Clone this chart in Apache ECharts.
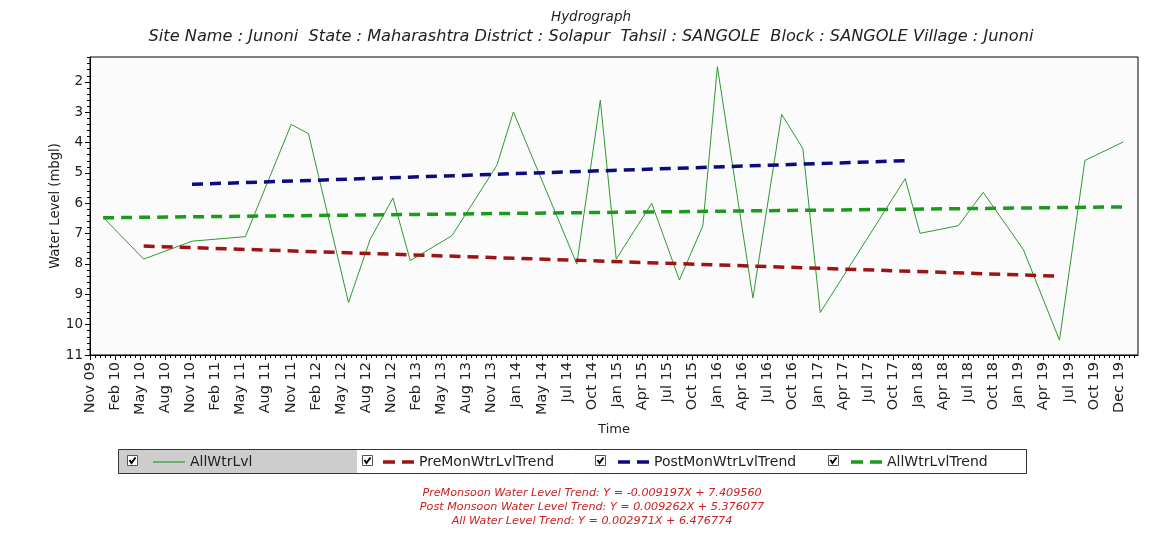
<!DOCTYPE html>
<html>
<head>
<meta charset="utf-8">
<title>Hydrograph - Junoni</title>
<script src="https://cdn.jsdelivr.net/npm/echarts@6/dist/echarts.min.js"></script>
<style>
  html, body { margin: 0; padding: 0; background: #ffffff; }
  #chart { width: 1163px; height: 533px; }
</style>
</head>
<body>
<div id="chart"></div>
<script>
// Observation dates and depth to water level (m below ground level)
const obsDates = [
  '2009-12-18', '2010-05-12', '2010-11-01', '2011-05-11', '2011-10-22', '2011-12-23',
  '2012-05-14', '2012-07-31', '2012-10-20', '2012-12-21', '2013-05-19', '2013-10-27',
  '2013-12-25', '2014-08-09', '2014-11-01', '2014-12-28', '2015-05-04', '2015-08-11',
  '2015-11-03', '2015-12-25', '2016-04-30', '2016-08-11', '2016-10-26', '2016-12-27',
  '2017-10-27', '2017-12-19', '2018-05-05', '2018-08-02', '2018-12-24', '2019-05-02',
  '2019-08-01', '2019-12-16'
];
const waterLevel = [
  6.46, 7.84, 7.25, 7.10, 3.40, 3.71,
  9.27, 7.18, 5.83, 7.89, 7.07, 4.75,
  2.99, 8.00, 2.60, 7.84, 6.00, 8.53,
  6.74, 1.50, 9.12, 3.07, 4.20, 9.60,
  5.19, 6.99, 6.74, 5.64, 7.53, 10.51,
  4.59, 3.98
];

// Trend line end points (date, level)
const preMonTrendDates = ['2010-05-12', '2019-05-02'];
const preMonTrendValues = [7.410, 8.403];
const postMonTrendDates = ['2010-11-01', '2017-10-27'];
const postMonTrendValues = [5.376, 4.598];
const allTrendDates = ['2009-12-18', '2019-12-16'];
const allTrendValues = [6.477, 6.120];

// Time axis tick labels (evenly spaced along the axis)
const tickLabels = [
  'Nov 09', 'Feb 10', 'May 10', 'Aug 10', 'Nov 10', 'Feb 11', 'May 11', 'Aug 11',
  'Nov 11', 'Feb 12', 'May 12', 'Aug 12', 'Nov 12', 'Feb 13', 'May 13', 'Aug 13',
  'Nov 13', 'Jan 14', 'May 14', 'Jul 14', 'Oct 14', 'Jan 15', 'Apr 15', 'Jul 15',
  'Oct 15', 'Jan 16', 'Apr 16', 'Jul 16', 'Oct 16', 'Jan 17', 'Apr 17', 'Jul 17',
  'Oct 17', 'Jan 18', 'Apr 18', 'Jul 18', 'Oct 18', 'Jan 19', 'Apr 19', 'Jul 19',
  'Oct 19', 'Dec 19'
];
const firstTickDate = '2009-11-01';
const lastTickDate = '2019-12-01';
const axisEndDate = '2020-02-07';

// Depth axis labels
const levelTicks = [2, 3, 4, 5, 6, 7, 8, 9, 10, 11];
const levelMin = 1.18;
const levelMax = 11;

const seriesNames = ['AllWtrLvl', 'PreMonWtrLvlTrend', 'PostMonWtrLvlTrend', 'AllWtrLvlTrend'];
const trendNotes = [
  'PreMonsoon Water Level Trend: Y = -0.009197X + 7.409560',
  'Post Monsoon Water Level Trend: Y = 0.009262X + 5.376077',
  'All Water Level Trend: Y = 0.002971X + 6.476774'
];

const FONT = '"DejaVu Sans", "Liberation Sans", Arial, sans-serif';
const ms = (d) => Date.parse(d + 'T00:00:00Z');
const pairs = (xs, ys) => xs.map((x, i) => [ms(x), ys[i]]);

// tick positions along the time axis
const t0 = ms(firstTickDate);
const tN = ms(lastTickDate);
const tEnd = ms(axisEndDate);
const tickStep = (tN - t0) / (tickLabels.length - 1);
const majorTimes = tickLabels.map((_, i) => t0 + i * tickStep);
const minorTimes = [];
for (let i = 0; i < tickLabels.length; i++) {
  for (let k = 1; k < 5; k++) {
    const t = t0 + (i + k / 5) * tickStep;
    if (t < tEnd) minorTimes.push(t);
  }
}
const minorLevels = [];
for (let i = 6; i < 55; i++) {
  if (i % 5 !== 0) minorLevels.push(i / 5);
}

const chart = echarts.init(document.getElementById('chart'), null, { renderer: 'canvas' });

// check box drawn in front of each legend entry
function checkBox(x, y) {
  return {
    type: 'group', x: x, y: y, silent: true,
    children: [
      { type: 'rect', shape: { x: 0.5, y: 0.5, width: 10, height: 10 },
        style: { fill: '#ffffff', stroke: '#555', lineWidth: 1 } },
      { type: 'polyline', shape: { points: [[2.5, 5], [4.5, 8], [8.5, 2.5]] },
        style: { stroke: '#000', lineWidth: 2, fill: null } }
    ]
  };
}

// legend line samples: a thin solid stroke and a pair of thick dashes
const SOLID_ICON = 'path://M0,0H32V1H0Z';
const DASH_ICON = 'path://M0,0H12V1H0ZM19,0H31V1H19Z';
const legendStyle = { fontFamily: FONT, fontSize: 14, color: '#222' };
function legendAt(name, left, icon, w, h) {
  return {
    data: [name], left: left, top: 455, icon: icon, itemWidth: w, itemHeight: h,
    symbolKeepAspect: false, itemGap: 6, textStyle: legendStyle, selectedMode: false, padding: 0
  };
}

const italic = (size, color) => ({
  fontFamily: FONT, fontSize: size, fontStyle: 'italic', fontWeight: 'normal', color: color
});
const TEXT_CENTER_X = 591;

const option = {
  backgroundColor: '#ffffff',
  animation: false,
  title: [
    { text: 'Hydrograph', left: TEXT_CENTER_X, textAlign: 'center', top: 10, padding: 0,
      textStyle: italic(13.5, '#222') },
    { text: 'Site Name : Junoni  State : Maharashtra District : Solapur  Tahsil : SANGOLE  Block : SANGOLE Village : Junoni',
      left: TEXT_CENTER_X, textAlign: 'center', top: 29, padding: 0, textStyle: italic(16.2, '#222') },
    ...trendNotes.map((t, i) => ({
      text: t, left: TEXT_CENTER_X + 1, textAlign: 'center', top: 488 + i * 14, padding: 0,
      textStyle: italic(11.2, '#cc2020')
    }))
  ],
  legend: [
    legendAt(seriesNames[0], 153, SOLID_ICON, 32, 1.2),
    legendAt(seriesNames[1], 383, DASH_ICON, 31, 3.5),
    legendAt(seriesNames[2], 618, DASH_ICON, 31, 3.5),
    legendAt(seriesNames[3], 851, DASH_ICON, 31, 3.5)
  ],
  grid: {
    left: 90, right: 25, top: 57, bottom: 178,
    show: true, backgroundColor: '#fbfbfb', borderColor: '#000', borderWidth: 1
  },
  xAxis: [
    {
      type: 'value',
      min: t0, max: tEnd,
      name: 'Time', nameLocation: 'middle', nameGap: 63,
      nameTextStyle: { fontFamily: FONT, fontSize: 13, color: '#222' },
      axisLine: { show: true, lineStyle: { color: '#000', width: 1 } },
      axisTick: { show: true, customValues: majorTimes, length: 5, lineStyle: { color: '#000' } },
      axisLabel: {
        customValues: majorTimes, rotate: 90, margin: 7,
        fontFamily: FONT, fontSize: 14.5, color: '#222',
        formatter: (val) => tickLabels[Math.round((val - t0) / tickStep)] || ''
      },
      splitLine: { show: false }
    },
    {
      type: 'value', gridIndex: 0, position: 'bottom',
      min: t0, max: tEnd,
      axisLine: { show: false },
      axisTick: { show: true, customValues: minorTimes, length: 3, lineStyle: { color: '#000' } },
      axisLabel: { show: false },
      splitLine: { show: false }
    }
  ],
  yAxis: [
    {
      type: 'value', inverse: true, min: levelMin, max: levelMax,
      name: 'Water Level (mbgl)', nameLocation: 'middle', nameGap: 28, nameMoveOverlap: false,
      nameTextStyle: { fontFamily: FONT, fontSize: 13.2, color: '#222' },
      axisLine: { show: true, lineStyle: { color: '#000', width: 1 } },
      axisTick: { show: true, customValues: levelTicks, length: 5, lineStyle: { color: '#000' } },
      axisLabel: { customValues: levelTicks, margin: 7, fontFamily: FONT, fontSize: 13.5, color: '#222' },
      splitLine: { show: false }
    },
    {
      type: 'value', inverse: true, min: levelMin, max: levelMax, position: 'left',
      axisLine: { show: false },
      axisTick: { show: true, customValues: minorLevels, length: 3, lineStyle: { color: '#000' } },
      axisLabel: { show: false },
      splitLine: { show: false }
    }
  ],
  series: [
    {
      name: seriesNames[0], type: 'line', symbol: 'none',
      data: pairs(obsDates, waterLevel),
      lineStyle: { color: '#2f9a2f', width: 1 }, itemStyle: { color: '#2f9a2f' }, z: 2
    },
    {
      name: seriesNames[1], type: 'line', symbol: 'none',
      data: pairs(preMonTrendDates, preMonTrendValues),
      lineStyle: { color: '#9c1414', width: 3.5, type: [11, 7] }, itemStyle: { color: '#9c1414' }, z: 3
    },
    {
      name: seriesNames[2], type: 'line', symbol: 'none',
      data: pairs(postMonTrendDates, postMonTrendValues),
      lineStyle: { color: '#0c0c80', width: 3.5, type: [11, 7] }, itemStyle: { color: '#0c0c80' }, z: 3
    },
    {
      name: seriesNames[3], type: 'line', symbol: 'none',
      data: pairs(allTrendDates, allTrendValues),
      lineStyle: { color: '#1c9a1c', width: 3.5, type: [11, 7] }, itemStyle: { color: '#1c9a1c' }, z: 3
    }
  ],
  graphic: [
    { type: 'rect', z: -2, silent: true,
      shape: { x: 118.5, y: 449.5, width: 908, height: 24 },
      style: { fill: '#ffffff', stroke: '#333', lineWidth: 1 } },
    { type: 'rect', z: -1, silent: true,
      shape: { x: 119, y: 450, width: 238, height: 23 },
      style: { fill: '#cdcdcd' } },
    checkBox(127, 455),
    checkBox(362, 455),
    checkBox(595, 455),
    checkBox(828, 455)
  ]
};

chart.setOption(option);
</script>
</body>
</html>
